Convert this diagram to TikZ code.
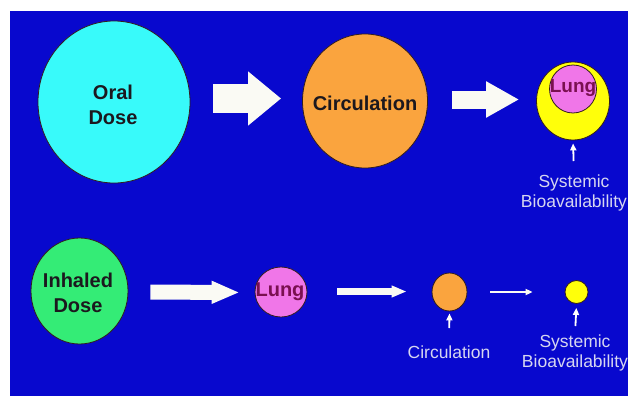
\documentclass[tikz,border=0pt]{standalone}
\usepackage{fontspec}
\setmainfont{Liberation Sans}
\usetikzlibrary{shapes.geometric,arrows.meta}
\definecolor{slideblue}{RGB}{8,8,206}
\definecolor{oralcyan}{RGB}{56,250,250}
\definecolor{circorange}{RGB}{250,164,62}
\definecolor{bioyellow}{RGB}{255,255,10}
\definecolor{lungpink}{RGB}{240,118,232}
\definecolor{inhalegreen}{RGB}{52,236,118}
\definecolor{rimdark}{RGB}{50,30,30}
\definecolor{inkdark}{RGB}{28,24,30}
\definecolor{lungink}{RGB}{122,16,80}
\definecolor{captiongrey}{RGB}{214,214,240}
\definecolor{arrowwhite}{RGB}{250,250,244}
\tikzset{
  disc/.style n args={3}{ellipse,inner sep=0pt,draw=rimdark,line width=0.8pt,fill=#1,minimum width=#2,minimum height=#3},
  boldtxt/.style={font=\bfseries\fontsize{20}{25}\selectfont,align=center,text=inkdark,inner sep=0pt},
  lungtxt/.style={font=\bfseries\fontsize{#1}{22}\selectfont,text=lungink,inner sep=0pt},
  caption/.style={font=\fontsize{17.5}{20}\selectfont,align=center,text=captiongrey,inner sep=0pt,anchor=north},
  fatarrow/.style n args={3}{draw=arrowwhite,line width=#1,-{Triangle[length=#3,width=#2]}},
  pointer/.style={draw=white,line width=1.8pt,-{Triangle[length=7pt,width=6pt]}}
}
\begin{document}
\begin{tikzpicture}[x=1pt,y=-1pt,line join=round]
\useasboundingbox (0,0) rectangle (628,396);
\fill[white] (0,0) rectangle (628,396);
\fill[slideblue] (10,11) rectangle (628,396);
% oral route
\node[disc={oralcyan}{152pt}{162pt}] (oral) at (114,102) {};
\node[boldtxt] (oraltxt) at (113,104.5) {Oral\\Dose};
\node[disc={circorange}{125pt}{134pt}] (circ) at (365,101) {};
\node[boldtxt] (circtxt) at (365,103) {Circulation};
\node[disc={bioyellow}{73pt}{78pt}] (yel) at (573,101) {};
\node[disc={lungpink}{47pt}{48pt}] (lungA) at (573,89) {};
\node[lungtxt=19] (lungAtxt) at (573,88) {Lung};
\node[caption] (sysA) at (574,175) {Systemic\\Bioavailability};
\draw[fatarrow={29pt}{52pt}{33pt},shorten <=23pt,shorten >=21pt] ([yshift=3.5pt]oral.east) -- ([yshift=2.5pt]circ.west);
\draw[fatarrow={18pt}{34pt}{33pt},shorten <=24pt,shorten >=17pt] ([yshift=1.5pt]circ.east) -- ([yshift=1.5pt]yel.west);
\draw[pointer,shorten <=14pt,shorten >=3pt] (sysA.north) -- (yel.south);
% inhaled route
\node[disc={inhalegreen}{97pt}{106pt}] (inh) at (79.5,291) {};
\node[boldtxt] (inhtxt) at (78,292.5) {Inhaled\\Dose};
\node[disc={lungpink}{52pt}{50pt}] (lungB) at (281,292) {};
\node[lungtxt=20] (lungBtxt) at (280,292) {Lung};
\node[disc={circorange}{35pt}{38pt}] (scirc) at (449.5,292) {};
\node[disc={bioyellow}{23pt}{23pt}] (syel) at (576.5,292) {};
\node[caption] (circlab) at (449,346) {Circulation};
\node[caption] (sysB) at (575,335) {Systemic\\Bioavailability};
\draw[fatarrow={15pt}{21pt}{28pt},shorten <=22pt,shorten >=15pt] ([yshift=-1pt]inh.east) -- ([yshift=-0.5pt]lungB.west);
\draw[fatarrow={7pt}{11pt}{15pt},shorten <=30pt,shorten >=25pt] ([yshift=0.5pt]lungB.east) -- ([yshift=0.5pt]scirc.west);
\draw[fatarrow={2.5pt}{6pt}{7pt},shorten <=23pt,shorten >=32pt] (scirc.east) -- (syel.west);
\draw[pointer,shorten <=18pt,shorten >=2pt] (circlab.north) -- (scirc.south);
\draw[pointer,shorten <=9pt,shorten >=4pt] (sysB.north) -- (syel.south);
\end{tikzpicture}
\end{document}
